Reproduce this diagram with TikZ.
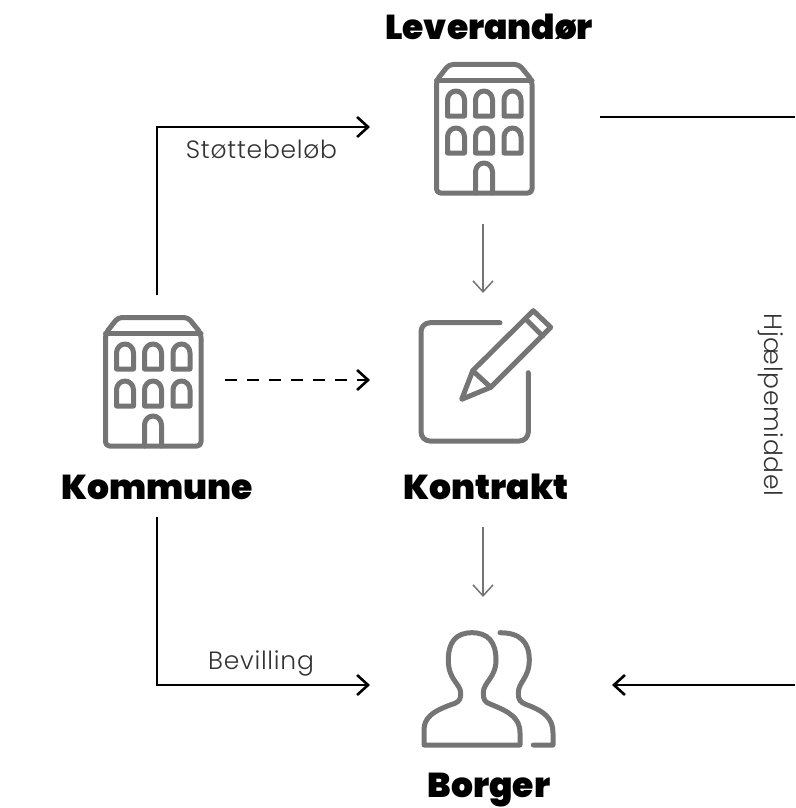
\documentclass[tikz,border=0pt]{standalone}
\usepackage{fontspec}
\usetikzlibrary{arrows.meta}
\newfontfamily\titlefont[UprightFont=* Black]{Poppins}
\newfontfamily\labelfont[UprightFont=* Light, LetterSpace=3]{Poppins}
\definecolor{icongray}{HTML}{757575}
\tikzset{
    icon/.style={draw=icongray, line width=5pt, line cap=round, line join=round},
    title/.style={font=\titlefont\fontsize{34.5}{34.5}\selectfont, text=black, inner sep=0pt},
    edgelabel/.style={font=\labelfont\fontsize{25}{25}\selectfont, text=black!80, inner sep=0pt},
    arrow/.style={-{Straight Barb[length=11pt,width=20pt,line width=2.6pt]}, line width=2.4pt},
    line/.style={line width=2.4pt},
    grayarrow/.style={-{Straight Barb[length=11pt,width=20pt,line width=1.5pt]}, line width=1.5pt, draw=icongray},
    building/.pic={
        \draw[icon, rounded corners=4pt] (15,2.5) -- (85,2.5) -- (98,18.5) -- (98,131) -- (2.5,131) -- (2.5,18.5) -- cycle;
        \draw[icon] (2.5,18.5) -- (98,18.5);
        \foreach \wx in {13.5,41.5,70} {
            \foreach \wy in {29,66} {
                \draw[icon] (\wx,\wy+25) -- (\wx,\wy+9) arc (180:360:8.5 and 9) -- (\wx+17,\wy+25) -- cycle;
            }
        }
        \draw[icon] (41.5,131) -- (41.5,110) arc (180:360:8.5 and 9) -- (58.5,131);
    }
}
\begin{document}
\begin{tikzpicture}[x=1pt, y=-1pt]
    \useasboundingbox (0,0) rectangle (795,808);

    % Icons
    \pic at (434,62) {building};
    \pic at (103,315) {building};
    % Contract
    \draw[icon, rounded corners=9pt] (500,322.7) -- (421,322.7) -- (421,441) -- (528.3,441) -- (528.3,372.7);
    \draw[icon] (461.7,399.3) -- (472.7,370.7) -- (533.3,310.7) -- (550.7,327.3) -- (490.7,387.3) -- cycle;
    \draw[icon] (472.7,370.7) -- (490.7,387.3);
    \draw[icon] (526,319.3) -- (542.7,336);
    % People
    \draw[icon] (424,745) -- (424,730) .. controls (424,718) and (432,711) .. (455,703.3)
        .. controls (460,701) and (460.7,698) .. (460.7,693) .. controls (460.7,684) and (448.3,680) .. (448.3,660)
        .. controls (448.3,642) and (456,632.7) .. (472,632.7) .. controls (488,632.7) and (496,642) .. (496,660)
        .. controls (496,678) and (483.3,682) .. (483.3,693) .. controls (483.3,700) and (485,702) .. (490,704)
        .. controls (510,712) and (520,718) .. (520,733) -- (520,745) -- cycle;
    \draw[icon] (500,632.7) .. controls (520,632.7) and (529.3,642) .. (529.3,660)
        .. controls (529.3,678) and (518.3,682) .. (518.3,693) .. controls (518.3,700) and (520,702) .. (526,704.5)
        .. controls (544,711) and (553,718) .. (553,733) -- (553,745) -- (533.3,745);

    % Titles
    \node[title] (leverandor) at (489,27) {Leverandør};
    \node[title] (kommune) at (157,487) {Kommune};
    \node[title] (kontrakt) at (486,487) {Kontrakt};
    \node[title] (borger) at (489,790) {Borger};

    % Connector ends
    \coordinate (komTop) at (157,295);
    \coordinate (levIn) at (370,127);
    \coordinate (komDash) at (225,380);
    \coordinate (konIn) at (370,380);
    \coordinate (komBottom) at (157,517);
    \coordinate (borIn) at (370,685);
    \coordinate (levOut) at (600,117);
    \coordinate (edgeTop) at (795,117);
    \coordinate (edgeBottom) at (795,685);
    \coordinate (borOut) at (612,685);
    \coordinate (levDown) at (483,224);
    \coordinate (konUp) at (483,293);
    \coordinate (konDown) at (483,527);
    \coordinate (borUp) at (483,597);

    \draw[arrow] (komTop) |- (levIn);
    \draw[arrow, dash pattern=on 12pt off 10pt] (komDash) -- (konIn);
    \draw[arrow] (komBottom) |- (borIn);
    \draw[line] (levOut) -- (edgeTop);
    \draw[arrow] (edgeBottom) -- (borOut);
    \draw[grayarrow] (levDown) -- (konUp);
    \draw[grayarrow] (konDown) -- (borUp);

    % Labels
    \node[edgelabel] (stotte) at (261.5,149) {Støttebeløb};
    \node[edgelabel] (bevilling) at (261,663) {Bevilling};
    \node[edgelabel, rotate=-90] (hjaelp) at (771,405) {Hjælpemiddel};
\end{tikzpicture}
\end{document}
